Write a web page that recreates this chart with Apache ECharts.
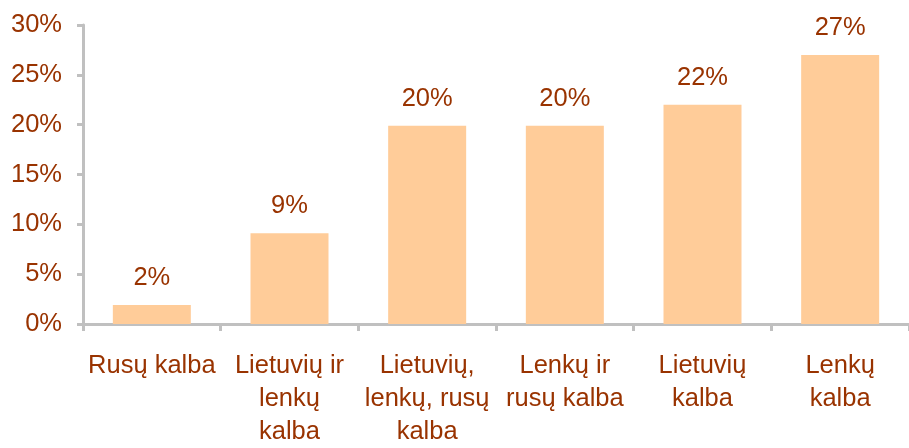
<!DOCTYPE html>
<html>
<head>
<meta charset="utf-8">
<script src="https://cdn.jsdelivr.net/npm/echarts@6/dist/echarts.min.js"></script>
<style>
  html, body { margin: 0; padding: 0; background: #fff; }
  #chart { width: 909px; height: 448px; }
</style>
</head>
<body>
<div id="chart"></div>
<script>
// kategorijos ir reikšmės
const categories = [
  "Rusų kalba",
  "Lietuvių ir\nlenkų\nkalba",
  "Lietuvių,\nlenkų, rusų\nkalba",
  "Lenkų ir\nrusų kalba",
  "Lietuvių\nkalba",
  "Lenkų\nkalba"
];
const values = [1.9, 9.1, 19.9, 19.9, 22.0, 27.0];

const textColor = "#993300";
const axisColor = "#c0c0c0";
const font = "Liberation Sans, Arial, sans-serif";

const chart = echarts.init(document.getElementById("chart"));

chart.setOption({
  animation: false,
  grid: {
    left: 83,
    top: 25,
    bottom: 117,
    width: 836,
    containLabel: false
  },
  xAxis: {
    type: "category",
    data: categories,
    axisLine: { lineStyle: { color: axisColor, width: 3 } },
    axisTick: { show: true, length: 7, lineStyle: { color: axisColor, width: 3 } },
    axisLabel: {
      color: textColor,
      fontFamily: font,
      fontSize: 25.5,
      lineHeight: 33,
      margin: 25,
      interval: 0
    }
  },
  yAxis: {
    type: "value",
    min: 0,
    max: 30,
    interval: 5,
    axisLine: { show: true, lineStyle: { color: axisColor, width: 3 } },
    axisTick: { show: true, length: 6, lineStyle: { color: axisColor, width: 3 } },
    splitLine: { show: false },
    axisLabel: {
      color: textColor,
      fontFamily: font,
      fontSize: 25.5,
      margin: 21,
      formatter: "{value}%"
    }
  },
  series: [
    {
      type: "bar",
      data: values,
      barWidth: 78,
      itemStyle: { color: "#ffcc99" },
      label: {
        show: true,
        position: "top",
        distance: 14,
        color: textColor,
        fontFamily: font,
        fontSize: 25.5,
        formatter: p => Math.round(p.value) + "%"
      }
    }
  ]
});
</script>
</body>
</html>
